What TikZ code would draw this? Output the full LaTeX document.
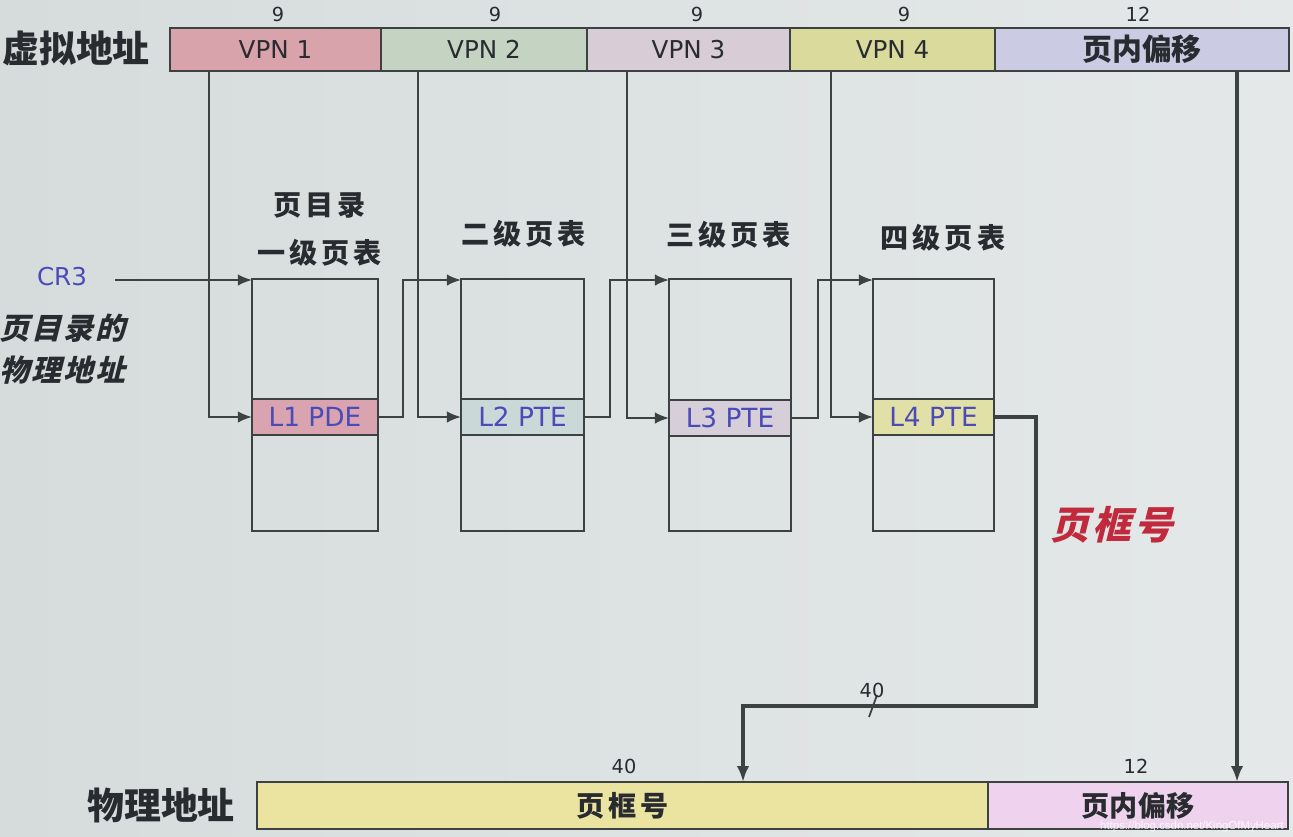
\documentclass[tikz,border=0pt]{standalone}
\usepackage{fontspec}
\setmainfont{DejaVu Sans}
\newfontfamily\cjk{Noto Sans CJK SC}
\newfontfamily\cjkwide[LetterSpace=14]{Noto Sans CJK SC}
\newfontfamily\cjksl[FakeSlant=0.25,LetterSpace=8]{Noto Sans CJK SC}
\newfontfamily\wmfont{Liberation Sans}
\usetikzlibrary{arrows.meta,calc}
\definecolor{bgl}{RGB}{214,220,220}
\definecolor{bgr}{RGB}{228,232,232}
\definecolor{ln}{RGB}{60,66,66}
\definecolor{cvpna}{RGB}{216,163,171}
\definecolor{cvpnb}{RGB}{197,211,194}
\definecolor{cvpnc}{RGB}{216,204,214}
\definecolor{cvpnd}{RGB}{217,218,156}
\definecolor{cofs}{RGB}{203,203,227}
\definecolor{cpfn}{RGB}{235,227,160}
\definecolor{cpofs}{RGB}{239,211,238}
\definecolor{crowa}{RGB}{217,164,176}
\definecolor{crowb}{RGB}{203,216,216}
\definecolor{crowc}{RGB}{214,207,217}
\definecolor{crowd}{RGB}{225,224,166}
\definecolor{bluetxt}{RGB}{74,74,184}
\definecolor{redtxt}{RGB}{192,42,60}
\definecolor{darktxt}{RGB}{40,44,48}
\newcommand\pxl[1]{#1*0.02cm}
\tikzset{
  seg/.style={draw=ln, line width=1.2pt, inner sep=0pt, outer sep=0pt, anchor=north west,
    minimum height=\pxl{43}, text=darktxt, font=\fontsize{14}{16}\selectfont},
  bseg/.style={draw=ln, line width=1.2pt, inner sep=0pt, outer sep=0pt, anchor=north west,
    minimum height=\pxl{47}, text=darktxt},
  tbl/.style={draw=ln, line width=1.1pt, inner sep=0pt, outer sep=0pt, anchor=north west,
    minimum height=\pxl{252}},
  row/.style={draw=ln, line width=1.1pt, inner sep=0pt, outer sep=0pt, anchor=north west,
    minimum height=\pxl{36}, text=bluetxt, font=\fontsize{15}{17}\selectfont},
  num/.style={text=darktxt, font=\fontsize{11}{13}\selectfont},
  ttl/.style={text=darktxt, font=\fontsize{16}{18}\cjkwide\bfseries},
  conn/.style={draw=ln, line width=1.1pt, -{Latex[length=8pt,width=6.5pt]}},
  thickconn/.style={draw=ln, line width=1.8pt, -{Latex[length=9pt,width=7pt]}},
}
\begin{document}
\begin{tikzpicture}[x=0.02cm,y=-0.02cm]
\shade[left color=bgl, right color=bgr] (0,0) rectangle (1293,836);
\useasboundingbox (0,0) rectangle (1293,836);

% virtual address bar
\node[seg, fill=cvpna, minimum width=\pxl{211}] (vpn1) at (170,28) {VPN 1};
\node[seg, fill=cvpnb, minimum width=\pxl{206}] (vpn2) at (381,28) {VPN 2};
\node[seg, fill=cvpnc, minimum width=\pxl{203}] (vpn3) at (587,28) {VPN 3};
\node[seg, fill=cvpnd, minimum width=\pxl{205}] (vpn4) at (790,28) {VPN 4};
\node[seg, fill=cofs, minimum width=\pxl{294}, font=\fontsize{17}{19}\cjk\bfseries] (vofs) at (995,28) {页内偏移};
\node[num] (n1) at (278,14) {9};
\node[num] (n2) at (495,14) {9};
\node[num] (n3) at (697,14) {9};
\node[num] (n4) at (904,14) {9};
\node[num] (n5) at (1138,14) {12};
\node[text=darktxt, font=\fontsize{21}{23}\cjk\bfseries] (va) at (76,48) {虚拟地址};

% table titles
\node[ttl] (t1a) at (320,205) {页目录};
\node[ttl] (t1b) at (320,253) {一级页表};
\node[ttl] (t2t) at (524,234) {二级页表};
\node[ttl] (t3t) at (729,235) {三级页表};
\node[ttl] (t4t) at (943,238) {四级页表};

% tables
\node[tbl, minimum width=\pxl{126}] (t1) at (252,279) {};
\node[tbl, minimum width=\pxl{123}] (t2) at (461,279) {};
\node[tbl, minimum width=\pxl{122}] (t3) at (669,279) {};
\node[tbl, minimum width=\pxl{121}] (t4) at (873,279) {};
\node[row, fill=crowa, minimum width=\pxl{126}] (r1) at (252,399) {L1 PDE};
\node[row, fill=crowb, minimum width=\pxl{123}] (r2) at (461,399) {L2 PTE};
\node[row, fill=crowc, minimum width=\pxl{122}] (r3) at (669,400) {L3 PTE};
\node[row, fill=crowd, minimum width=\pxl{121}] (r4) at (873,399) {L4 PTE};

% CR3
\node[text=bluetxt, font=\fontsize{14}{16}\selectfont] (cr3) at (62,277) {CR3};
\node[text=darktxt, font=\fontsize{17}{24}\cjksl\bfseries, align=left, anchor=north east] (cr3d) at (132,308) {页目录的\\物理地址};
\coordinate (cr3s) at (115,280);
\draw[conn] (cr3s) -- (cr3s -| t1.north west);

% VPN index lines
\coordinate (v1) at (209,71);
\coordinate (v2) at (418,71);
\coordinate (v3) at (627,71);
\coordinate (v4) at (831,71);
\draw[conn] (v1) |- (r1.west);
\draw[conn] (v2) |- (r2.west);
\draw[conn] (v3) |- (r3.west);
\draw[conn] (v4) |- (r4.west);

% table chaining
\draw[conn] (r1.east) -- ++(25,0) |- ($(t2.north west)+(0,1)$);
\draw[conn] (r2.east) -- ++(26,0) |- ($(t3.north west)+(0,1)$);
\draw[conn] (r3.east) -- ++(27,0) |- ($(t4.north west)+(0,1)$);

% physical address bar
\node[bseg, fill=cpfn, minimum width=\pxl{731}, font=\fontsize{16}{18}\cjkwide\bfseries] (pfn) at (257,782) {页框号};
\node[bseg, fill=cpofs, minimum width=\pxl{300}, font=\fontsize{16}{18}\cjk\bfseries] (pofs) at (988,782) {页内偏移};
\node[num] (m1) at (624,766) {40};
\node[num] (m2) at (1136,766) {12};
\node[text=darktxt, font=\fontsize{21}{23}\cjk\bfseries] (pa) at (161,805) {物理地址};

% offset line
\coordinate (o1) at (1237,71);
\draw[thickconn] (o1) -- (o1 |- pofs.north);

% frame number line
\coordinate (bend) at (1036,706);
\coordinate (drop) at (743,782);
\draw[thickconn] (r4.east) -| (bend) -| (drop);
\coordinate (sl) at (873,706);
\draw[draw=ln, line width=1pt] ($(sl)+(-4,11)$) -- ($(sl)+(4,-11)$);
\node[num] (w40) at (872,690) {40};
\node[text=redtxt, font=\fontsize{22}{24}\cjksl\bfseries] (pfnlbl) at (1112,525) {页框号};

% watermark
\node[text=white, opacity=0.85, font=\fontsize{6.5}{7}\wmfont, anchor=east, inner sep=0pt] (wm) at (1284,827) {https://blog.csdn.net/KingOfMyHeart};
\end{tikzpicture}
\end{document}
